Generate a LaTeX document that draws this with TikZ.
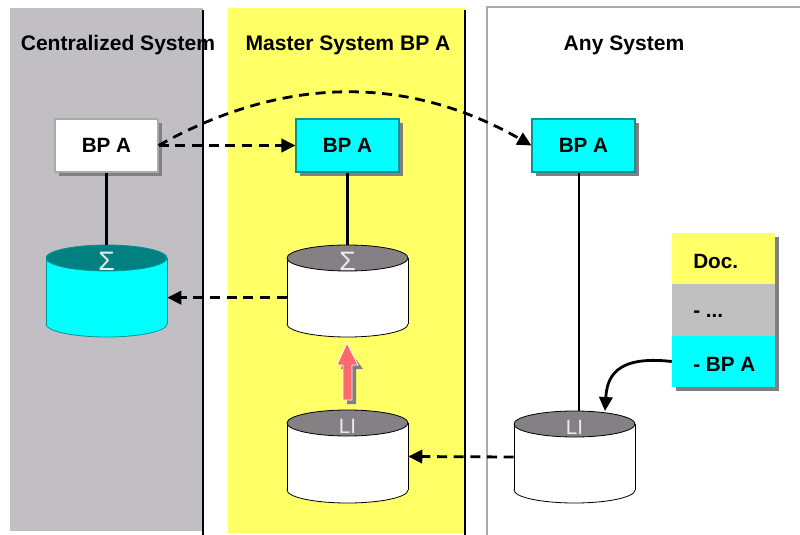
\documentclass[tikz,border=0pt]{standalone}
\usepackage{fontspec}
\setmainfont{Liberation Sans}
\usetikzlibrary{arrows.meta,shadows,fit}
\definecolor{colgray}{RGB}{193,191,195}
\definecolor{colyellow}{RGB}{255,255,102}
\definecolor{cyanfill}{RGB}{0,255,255}
\definecolor{tealedge}{RGB}{0,150,150}
\definecolor{tealtop}{RGB}{0,128,128}
\definecolor{graytop}{RGB}{132,128,132}
\definecolor{shadowgray}{RGB}{128,128,128}
\definecolor{docgray}{RGB}{192,192,192}
\definecolor{anyedge}{RGB}{170,170,170}
\definecolor{redarrow}{RGB}{255,105,105}
\newcommand\dbcyl[8]{%
  \fill[#5,draw=#8,line width=0.6pt] (#2,#4) ellipse[x radius=45.375pt,y radius=9.75pt];
  \fill[#5] (#2-60.5,#3) rectangle (#2+60.5,#4);
  \draw[#8,line width=0.6pt] (#2-60.5,#3) -- (#2-60.5,#4) (#2+60.5,#3) -- (#2+60.5,#4);
  \fill[#6,draw=#8,line width=0.6pt] (#2,#3) ellipse[x radius=45.375pt,y radius=9.75pt];
  \node[cyllabel] (#1-lbl) at (#2,#3+3) {#7};
  \node[fit={(#2-60.5,#3-13) (#2+60.5,#4+13)},inner sep=0pt] (#1) {};
}
\begin{document}
\begin{tikzpicture}[x=0.75pt,y=-0.75pt,
  title/.style={font=\fontsize{15.8}{18}\selectfont\bfseries},
  bpbox/.style={minimum width=77.25pt,minimum height=39.75pt,inner sep=0pt,
     font=\fontsize{15.5}{18}\selectfont\bfseries,line width=0.8pt,
     general shadow={fill=shadowgray,shadow xshift=3pt,shadow yshift=-3pt}},
  docbox/.style={minimum width=77.25pt,minimum height=38.5pt,inner sep=0pt,
     general shadow={fill=shadowgray,shadow xshift=3pt,shadow yshift=-3pt}},
  doctext/.style={anchor=west,inner sep=0pt,font=\fontsize{15.5}{18}\selectfont\bfseries},
  cyllabel/.style={text=white!92!black,inner sep=0pt,font=\fontsize{15.5}{16}\selectfont},
  sigma/.style={font=\fontsize{20}{20}\selectfont},
  dashedarrow/.style={line width=2.1pt,dash pattern=on 7.5pt off 5pt,-{Triangle[length=10.5pt,width=10pt]}},
  solidline/.style={line width=2.1pt}]
\useasboundingbox (0,0) rectangle (800,535);
% columns
\fill[colgray] (10,8) rectangle (203,531);
\fill[colyellow] (228,8) rectangle (465,533);
\draw[anyedge,line width=0.8pt] (487,7) rectangle (803,540);
\draw[black,line width=2.2pt] (203,10) -- (203,535);
\draw[black,line width=2.2pt] (465,10) -- (465,535);
% titles
\node[title] (t1) at (118,45) {Centralized System};
\node[title] (t2) at (348,45) {Master System BP A};
\node[title] (t3) at (624,45) {Any System};
% boxes
\node[bpbox,fill=white,draw=anyedge] (cbp) at (106.5,145.5) {BP A};
\node[bpbox,fill=cyanfill,draw=tealedge] (mbp) at (347.5,145.5) {BP A};
\node[bpbox,fill=cyanfill,draw=tealedge] (abp) at (583.5,145.5) {BP A};
% cylinders
\dbcyl{csum}{106.5}{258}{324}{cyanfill}{tealtop}{\tikzset{}\fontsize{20}{20}\selectfont Σ}{tealedge}
\dbcyl{msum}{347.5}{258}{324}{white}{graytop}{\fontsize{20}{20}\selectfont Σ}{black}
\dbcyl{mli}{347.5}{423}{490}{white}{graytop}{LI}{black}
\dbcyl{ali}{574.5}{424}{490}{white}{graytop}{LI}{black}
% doc stack
\node[docbox,fill=colyellow] (ddoc) at (723.5,258.5) {};
\node[docbox,fill=docgray] (ddots) at (723.5,310) {};
\node[docbox,fill=cyanfill] (dbpa) at (723.5,361.5) {};
\node[doctext] (ldoc) at (693,261) {Doc.};
\node[doctext] (ldots) at (693,314) {- ...};
\node[doctext] (lbpa) at (693,364) {- BP A};
% solid connectors
\draw[solidline] (cbp.south) -- (csum.north);
\draw[solidline] (mbp.south) -- (msum.north);
\coordinate (alitop) at (579,411);
\draw[solidline] (abp.south -| alitop) -- (alitop);
\coordinate (alitip) at (605,411);
\draw[solidline,-{Triangle[length=10.5pt,width=10pt]}] (dbpa.west) .. controls (615,355) and (607,378) .. (alitip);
% dashed connectors
\draw[dashedarrow] (cbp.east) -- (mbp.west);
\draw[dashedarrow] (cbp.east) .. controls (284,75) and (408,75) .. (abp.west);
\draw[dashedarrow] ([yshift=-5pt]msum.west) -- ([yshift=-5pt]csum.east);
\draw[dashedarrow] (ali.west) -- (mli.east);
% red arrow
\fill[shadowgray] (347,347) -- (363,369) -- (356,369) -- (356,404) -- (347,404) -- (347,369) -- (341,369) -- cycle;
\filldraw[fill=redarrow,draw=white,line width=0.6pt] (347,343) -- (358,365) -- (352,365) -- (352,400) -- (343,400) -- (343,365) -- (337,365) -- cycle;
\end{tikzpicture}
\end{document}
